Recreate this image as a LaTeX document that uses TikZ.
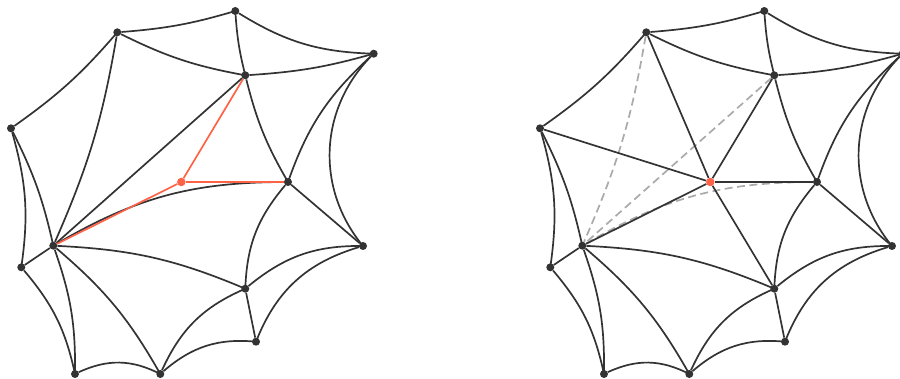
\documentclass[tikz,border=0pt]{standalone}
\usepackage{xcolor}
\usepackage{tikz}
\usetikzlibrary{positioning}

\definecolor{ink}{HTML}{333333}
\definecolor{hot}{HTML}{FF6347}
\definecolor{ghost}{HTML}{AAAAAA}

\begin{document}
\begin{tikzpicture}[x=1pt, y=1pt,
    vtx/.style={circle, fill=ink, inner sep=0pt, minimum size=8pt},
    hub/.style={circle, fill=hot, inner sep=0pt, minimum size=8.5pt},
    link/.style={draw=ink, line width=1.7pt},
    redlink/.style={draw=hot, line width=1.7pt},
    oldlink/.style={draw=ghost, line width=1.7pt, dash pattern=on 8pt off 4.5pt}]
    \useasboundingbox (0,0) rectangle (900,378);

    % the same web twice, left and right
    \foreach \p/\dx in {l/0, r/529} {
    \begin{scope}[xshift=\dx pt, name prefix=\p-]
        \node[vtx] (A) at (235.3,367) {};
        \node[vtx] (B) at (117.3,345.7) {};
        \node[vtx] (C) at (373.7,324.3) {};
        \node[vtx] (D) at (245.3,302.7) {};
        \node[vtx] (E) at (11,249.7) {};
        \node[vtx] (G) at (288,196) {};
        \node[vtx] (H) at (53.3,132.3) {};
        \node[vtx] (I) at (363,132) {};
        \node[vtx] (J) at (21.3,110.7) {};
        \node[vtx] (K) at (245.3,89.3) {};
        \node[vtx] (L) at (256,36.3) {};
        \node[vtx] (M) at (75,4) {};
        \node[vtx] (N) at (160.3,4) {};
        \node[hub] (F) at (181.3,196) {};
        \draw[link] (B) to[bend right=6] (A);
        \draw[link] (A) to[bend right=15] (C);
        \draw[link] (A) to[bend right=5] (D);
        \draw[link] (B) to[bend right=8] (D);
        \draw[link] (D) to[bend right=6] (C);
        \draw[link] (C) to[bend right=14] (G);
        \draw[link] (C) to[bend right=42] (I);
        \draw[link] (G) -- (I);
        \draw[link] (D) to[bend right=8] (G);
        \draw[link] (E) to[bend right=7] (B);
        \draw[link] (E) to[bend left=7] (H);
        \draw[link] (E) to[bend left=12] (J);
        \draw[link] (J) -- (H);
        \draw[link] (J) to[bend left=14] (M);
        \draw[link] (H) to[bend left=10] (M);
        \draw[link] (H) to[bend left=10] (N);
        \draw[link] (H) to[bend left=10] (K);
        \draw[link] (G) to[bend right=19] (K);
        \draw[link] (K) to[bend left=20] (I);
        \draw[link] (I) to[bend right=26] (L);
        \draw[link] (K) -- (L);
        \draw[link] (N) to[bend left=21] (K);
        \draw[link] (N) to[bend left=23] (L);
        \draw[link] (M) to[bend left=26] (N);
    \end{scope}
    }

    % left: old triangle, new point joined in red
    \draw[link] (l-B) to[bend left=7] (l-H);
    \draw[link] (l-D) -- (l-H);
    \draw[link] (l-H) to[bend left=15] (l-G);
    \draw[redlink] (l-F) -- (l-D);
    \draw[redlink] (l-F) -- (l-G);
    \draw[redlink] (l-F) -- (l-H);

    % right: old edges dashed, new ones solid
    \draw[oldlink] (r-B) to[bend left=7] (r-H);
    \draw[oldlink] (r-D) -- (r-H);
    \draw[oldlink] (r-H) to[bend left=15] (r-G);
    \draw[link] (r-F) -- (r-B);
    \draw[link] (r-F) -- (r-E);
    \draw[link] (r-F) -- (r-D);
    \draw[link] (r-F) -- (r-G);
    \draw[link] (r-F) -- (r-H);
    \draw[link] (r-F) -- (r-K);
\end{tikzpicture}
\end{document}
